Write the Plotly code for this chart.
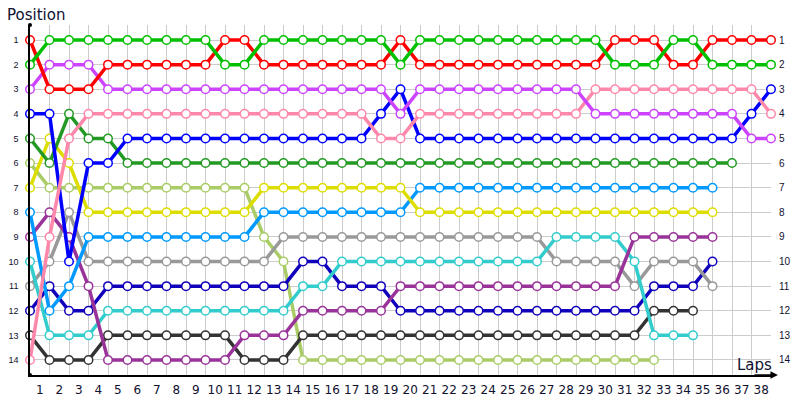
import plotly.graph_objects as go

# lap chart: position of each car after every lap (lap 0 = grid)
laps_labels = [str(i) for i in range(1, 39)]
positions = list(range(1, 15))

red = [1, 3, 3, 3, 2, 2, 2, 2, 2, 2, 1, 1, 2, 2, 2, 2, 2, 2, 2, 1,
       2, 2, 2, 2, 2, 2, 2, 2, 2, 2, 1, 1, 1, 2, 2, 1, 1, 1, 1]
green = [2, 1, 1, 1, 1, 1, 1, 1, 1, 1, 2, 2, 1, 1, 1, 1, 1, 1, 1, 2,
         1, 1, 1, 1, 1, 1, 1, 1, 1, 1, 2, 2, 2, 1, 1, 2, 2, 2, 2]
violet = [3, 2, 2, 2, 3, 3, 3, 3, 3, 3, 3, 3, 3, 3, 3, 3, 3, 3, 3, 4,
          3, 3, 3, 3, 3, 3, 3, 3, 3, 4, 4, 4, 4, 4, 4, 4, 4, 5, 5]
pink = [14, 9, 5, 4, 4, 4, 4, 4, 4, 4, 4, 4, 4, 4, 4, 4, 4, 4, 5, 5,
        4, 4, 4, 4, 4, 4, 4, 4, 4, 3, 3, 3, 3, 3, 3, 3, 3, 3, 4]
blue = [4, 4, 10, 6, 6, 5, 5, 5, 5, 5, 5, 5, 5, 5, 5, 5, 5, 5, 4, 3,
        5, 5, 5, 5, 5, 5, 5, 5, 5, 5, 5, 5, 5, 5, 5, 5, 5, 4, 3]
dark_green = [5, 6, 4, 5, 5, 6, 6, 6, 6, 6, 6, 6, 6, 6, 6, 6, 6, 6, 6, 6,
              6, 6, 6, 6, 6, 6, 6, 6, 6, 6, 6, 6, 6, 6, 6, 6, 6]
light_green = [6, 7, 7, 7, 7, 7, 7, 7, 7, 7, 7, 7, 9, 10, 14, 14, 14, 14, 14, 14,
               14, 14, 14, 14, 14, 14, 14, 14, 14, 14, 14, 14, 14]
yellow = [7, 5, 6, 8, 8, 8, 8, 8, 8, 8, 8, 8, 7, 7, 7, 7, 7, 7, 7, 7,
          8, 8, 8, 8, 8, 8, 8, 8, 8, 8, 8, 8, 8, 8, 8, 8]
light_blue = [8, 12, 11, 9, 9, 9, 9, 9, 9, 9, 9, 9, 8, 8, 8, 8, 8, 8, 8, 8,
              7, 7, 7, 7, 7, 7, 7, 7, 7, 7, 7, 7, 7, 7, 7, 7]
purple = [9, 8, 9, 11, 14, 14, 14, 14, 14, 14, 14, 13, 13, 13, 12, 12, 12, 12, 12, 11,
          11, 11, 11, 11, 11, 11, 11, 11, 11, 11, 11, 9, 9, 9, 9, 9]
teal = [10, 13, 13, 13, 12, 12, 12, 12, 12, 12, 12, 12, 12, 12, 11, 11, 10, 10, 10, 10,
        10, 10, 10, 10, 10, 10, 10, 9, 9, 9, 9, 10, 13, 13, 13]
gray = [11, 10, 8, 10, 10, 10, 10, 10, 10, 10, 10, 10, 10, 9, 9, 9, 9, 9, 9, 9,
        9, 9, 9, 9, 9, 9, 9, 10, 10, 10, 10, 11, 10, 10, 10, 11]
navy = [12, 11, 12, 12, 11, 11, 11, 11, 11, 11, 11, 11, 11, 11, 10, 10, 11, 11, 11, 12,
        12, 12, 12, 12, 12, 12, 12, 12, 12, 12, 12, 12, 11, 11, 11, 10]
black = [13, 14, 14, 14, 13, 13, 13, 13, 13, 13, 13, 14, 14, 14, 13, 13, 13, 13, 13, 13,
         13, 13, 13, 13, 13, 13, 13, 13, 13, 13, 13, 13, 12, 12, 12]

series = [
    (light_green, "#aacc66"),
    (black, "#333333"),
    (navy, "#1100bb"),
    (gray, "#999999"),
    (teal, "#33cccc"),
    (purple, "#993399"),
    (light_blue, "#0099ff"),
    (yellow, "#dddd00"),
    (dark_green, "#229922"),
    (blue, "#0000ff"),
    (pink, "#ff88aa"),
    (violet, "#cc44ff"),
    (red, "#ff0000"),
    (green, "#00c000"),
]

fig = go.Figure()
for values, color in series:
    fig.add_trace(go.Scatter(
        x=list(range(len(values))),
        y=values,
        mode="lines+markers",
        line=dict(color=color, width=3.5),
        marker=dict(symbol="circle", size=8.5, color="white",
                    line=dict(color=color, width=1.5)),
        cliponaxis=False,
        hoverinfo="skip",
    ))

fig.update_layout(
    width=800,
    height=400,
    margin=dict(l=30, r=29, t=25, b=25, autoexpand=False),
    plot_bgcolor="white",
    paper_bgcolor="white",
    showlegend=False,
    font=dict(family="DejaVu Sans", color="#101030"),
)
fig.update_xaxes(
    range=[0, 38],
    tickvals=[i + 0.5 for i in range(38)],
    ticktext=laps_labels,
    showgrid=False,
    minor=dict(dtick=1, tick0=0, showgrid=True, gridcolor="#cccccc", gridwidth=1),
    showline=True,
    linecolor="black",
    linewidth=1.5,
    zeroline=False,
    ticks="",
    automargin=False,
    ticklabelstandoff=3,
    tickfont=dict(size=12),
)
fig.update_yaxes(
    range=[14.61, 0.39],
    tickvals=positions,
    gridcolor="#cccccc",
    gridwidth=1,
    showline=True,
    linecolor="black",
    linewidth=1.5,
    zeroline=False,
    ticks="",
    automargin=False,
    ticklabelstandoff=8,
    tickfont=dict(size=9, family="Liberation Sans"),
)

# right-hand position labels
for p in positions:
    fig.add_annotation(
        x=1, xref="paper", y=p, yref="y", text=str(p), showarrow=False,
        xanchor="left", xshift=6, font=dict(size=10, family="Liberation Sans"),
    )

# x axis arrow
fig.add_annotation(
    x=1.0094, xref="paper", y=0, yref="paper", ax=-25, ay=0,
    showarrow=True, arrowhead=2, arrowsize=1, arrowwidth=1.5,
    arrowcolor="black", text="",
)
# dots at the y axis ends
for yy in (0, 1):
    fig.add_shape(
        type="circle", xref="paper", yref="paper",
        xsizemode="pixel", ysizemode="pixel", xanchor=0, yanchor=yy,
        x0=-2, x1=2, y0=-2, y1=2, fillcolor="black", line=dict(width=0),
    )

fig.add_annotation(
    x=-0.0337, xref="paper", y=1.0286, yref="paper", text="Position",
    showarrow=False, xanchor="left", yanchor="middle", font=dict(size=15),
)
fig.add_annotation(
    x=1.004, xref="paper", y=0.0286, yref="paper", text="Laps",
    showarrow=False, xanchor="right", yanchor="middle", font=dict(size=15),
)

fig.write_html(
    "out.html",
    config={"displayModeBar": False},
    post_script="document.body.style.margin='0';",
)
